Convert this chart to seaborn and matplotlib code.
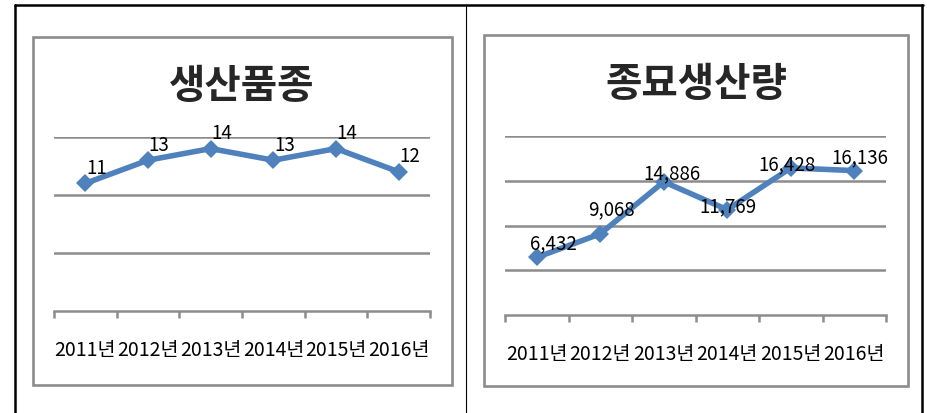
import numpy as np
import pandas as pd
import seaborn as sns
import matplotlib.pyplot as plt
from matplotlib.patches import Rectangle
from matplotlib.lines import Line2D

years = ['2011년', '2012년', '2013년', '2014년', '2015년', '2016년']
varieties = [11, 13, 14, 13, 14, 12]
seedlings = [6432, 9068, 14886, 11769, 16428, 16136]

title_left = '생산품종'
title_right = '종묘생산량'

sns.set_theme(style='white')
plt.rcParams['font.family'] = ['Noto Sans CJK KR', 'DejaVu Sans']

line_color = '#4f81bd'
grid_color = '#8c8c8c'
W, H = 927, 414

fig = plt.figure(figsize=(W / 100, H / 100), dpi=100)


def px(x, y):
    # pixel position (from top left) -> figure fraction
    return x / W, 1 - y / H


def axes_rect(x0, y0, x1, y1):
    return [x0 / W, 1 - y1 / H, (x1 - x0) / W, (y1 - y0) / H]


def draw(ax, values, ymax, step, fmt, offsets):
    df = pd.DataFrame({'year': years, 'value': values})
    sns.lineplot(data=df, x='year', y='value', ax=ax, color=line_color,
                 linewidth=4.0, marker='D', markersize=9.5, markeredgewidth=0)
    ax.set_xlim(-0.5, len(years) - 0.5)
    ax.set_ylim(0, ymax)
    ax.set_yticks(np.arange(step, ymax + 1, step))
    ax.yaxis.grid(True, color=grid_color, linewidth=1.8)
    ax.xaxis.grid(False)
    ax.tick_params(axis='y', left=False, labelleft=False)
    ax.set_xticks(np.arange(-0.5, len(years)), labels=[''] * (len(years) + 1))
    ax.set_xticks(range(len(years)), labels=years, minor=True)
    ax.tick_params(axis='x', which='major', length=5, width=1.8,
                   color=grid_color, direction='out', bottom=True)
    ax.tick_params(axis='x', which='minor', length=0, pad=20,
                   labelsize=14, labelcolor='black')
    for s in ['top', 'right', 'left']:
        ax.spines[s].set_visible(False)
    ax.spines['bottom'].set_color(grid_color)
    ax.spines['bottom'].set_linewidth(1.8)
    ax.set_xlabel('')
    ax.set_ylabel('')
    ax.set_facecolor('none')
    for i, v in enumerate(values):
        ax.annotate(fmt.format(v), (i, v), xytext=offsets[i],
                    textcoords='offset pixels', ha='center', va='center',
                    fontsize=13.5, color='black')


ax1 = fig.add_axes(axes_rect(54, 138, 430, 312))
draw(ax1, varieties, 15, 5, '{}', [(11, 16)] * 6)

ax2 = fig.add_axes(axes_rect(505, 137, 886, 316))
draw(ax2, seedlings, 20000, 5000, '{:,}',
     [(17, 15), (11, 25), (8, 9), (1, 4), (-4, 4), (6, 14)])

fig.text(*px(242, 87), title_left, ha='center', va='center',
         fontsize=28.5, fontweight='bold')
fig.text(*px(696, 85), title_right, ha='center', va='center',
         fontsize=28.5, fontweight='bold')

# chart frames
for x0, y0, x1, y1 in [(33, 38, 452, 386), (484, 36, 908, 387)]:
    fig.add_artist(Rectangle(px(x0, y1), (x1 - x0) / W, (y1 - y0) / H,
                             transform=fig.transFigure, fill=False,
                             edgecolor=grid_color, linewidth=1.9))

# table borders
for (xa, ya), (xb, yb), lw in [((15, 6), (923, 6), 1.8),
                               ((15, 6), (15, 414), 1.8),
                               ((922, 6), (922, 414), 1.8),
                               ((466, 6), (466, 414), 0.8)]:
    xs, ys = zip(px(xa, ya), px(xb, yb))
    fig.add_artist(Line2D(xs, ys, transform=fig.transFigure,
                          color='black', linewidth=lw))

fig.savefig('out.png', dpi=100)
